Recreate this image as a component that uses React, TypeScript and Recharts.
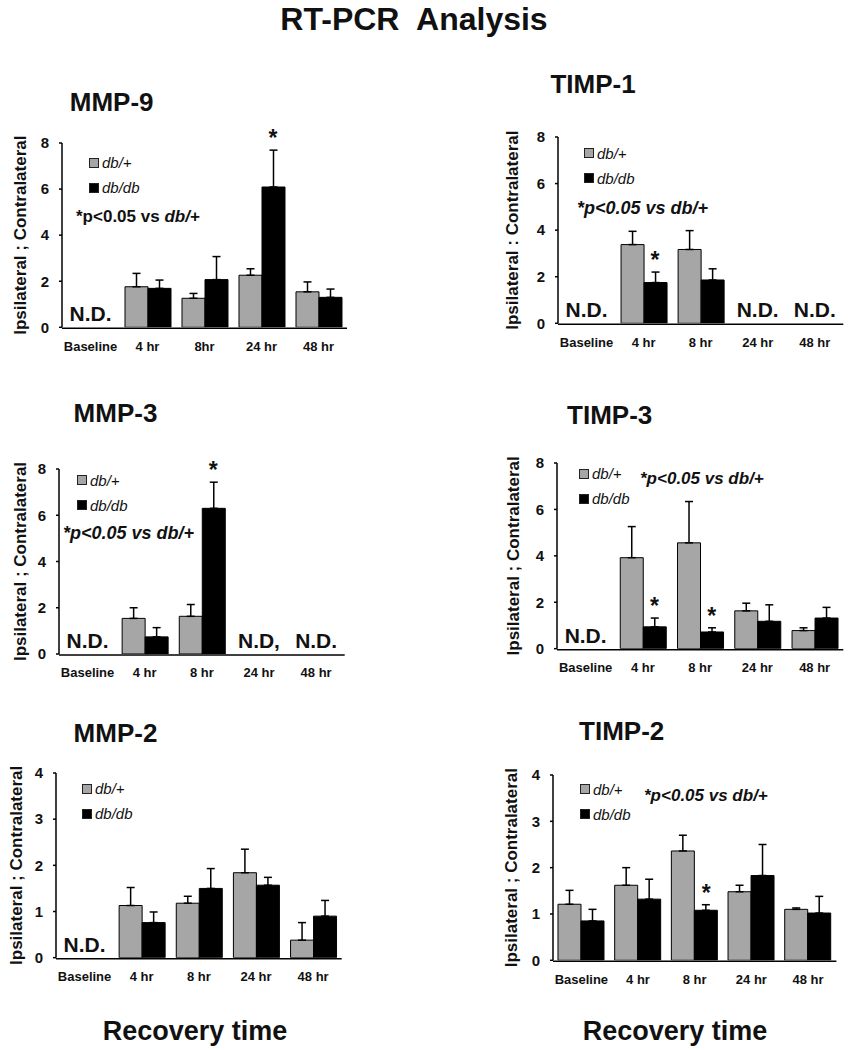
import React from 'react';
import { BarChart, Bar, XAxis, YAxis, ErrorBar, Legend, ReferenceDot } from 'recharts';

const FONT = "Arial, 'Liberation Sans', Helvetica, sans-serif";
const GREY = '#a6a6a6';
const BLACK = '#000000';
const INK = '#111111';

// ---------- MMP-9 ----------
const mmp9Categories = ['Baseline', '4 hr', '8hr', '24 hr', '48 hr'];
const mmp9DbPlus = [null, 1.76, 1.26, 2.26, 1.54];
const mmp9DbPlusErr = [null, 0.58, 0.21, 0.28, 0.43];
const mmp9DbDb = [null, 1.69, 2.07, 6.09, 1.3];
const mmp9DbDbErr = [null, 0.36, 1.0, 1.6, 0.36];
const mmp9Significant = [false, false, false, true, false];
const mmp9NotDetected = ['N.D.', null, null, null, null];

// ---------- TIMP-1 ----------
const timp1Categories = ['Baseline', '4 hr', '8 hr', '24 hr', '48 hr'];
const timp1DbPlus = [null, 3.38, 3.17, null, null];
const timp1DbPlusErr = [null, 0.57, 0.81, null, null];
const timp1DbDb = [null, 1.75, 1.86, null, null];
const timp1DbDbErr = [null, 0.45, 0.48, null, null];
const timp1Significant = [false, true, false, false, false];
const timp1NotDetected = ['N.D.', null, null, 'N.D.', 'N.D.'];

// ---------- MMP-3 ----------
const mmp3Categories = ['Baseline', '4 hr', '8 hr', '24 hr', '48 hr'];
const mmp3DbPlus = [null, 1.54, 1.63, null, null];
const mmp3DbPlusErr = [null, 0.46, 0.51, null, null];
const mmp3DbDb = [null, 0.74, 6.3, null, null];
const mmp3DbDbErr = [null, 0.4, 1.13, null, null];
const mmp3Significant = [false, false, true, false, false];
const mmp3NotDetected = ['N.D.', null, null, 'N.D,', 'N.D.'];

// ---------- TIMP-3 ----------
const timp3Categories = ['Baseline', '4 hr', '8 hr', '24 hr', '48 hr'];
const timp3DbPlus = [null, 3.92, 4.56, 1.63, 0.78];
const timp3DbPlusErr = [null, 1.34, 1.78, 0.33, 0.12];
const timp3DbDb = [null, 0.94, 0.72, 1.18, 1.32];
const timp3DbDbErr = [null, 0.38, 0.18, 0.71, 0.46];
const timp3Significant = [false, true, true, false, false];
const timp3NotDetected = ['N.D.', null, null, null, null];

// ---------- MMP-2 ----------
const mmp2Categories = ['Baseline', '4 hr', '8 hr', '24 hr', '48 hr'];
const mmp2DbPlus = [null, 1.13, 1.18, 1.84, 0.38];
const mmp2DbPlusErr = [null, 0.39, 0.15, 0.51, 0.38];
const mmp2DbDb = [null, 0.76, 1.5, 1.57, 0.9];
const mmp2DbDbErr = [null, 0.23, 0.43, 0.17, 0.34];
const mmp2Significant = [false, false, false, false, false];
const mmp2NotDetected = ['N.D.', null, null, null, null];

// ---------- TIMP-2 ----------
const timp2Categories = ['Baseline', '4 hr', '8 hr', '24 hr', '48 hr'];
const timp2DbPlus = [1.21, 1.62, 2.36, 1.48, 1.1];
const timp2DbPlusErr = [0.3, 0.38, 0.34, 0.14, 0.03];
const timp2DbDb = [0.85, 1.32, 1.08, 1.83, 1.02];
const timp2DbDbErr = [0.25, 0.43, 0.12, 0.67, 0.36];
const timp2Significant = [false, false, true, false, false];
const timp2NotDetected = [null, null, null, null, null];

const ticks8 = [0, 2, 4, 6, 8];
const ticks4 = [0, 1, 2, 3, 4];
const seriesNames = ['db/+', 'db/db'];
const seriesColors: Record<string, string> = { 'db/+': GREY, 'db/db': BLACK };

type Num = number | null;
type PanelCfg = {
  title: string;
  titleCx: number;
  titleCy: number;
  cats: string[];
  plus: Num[];
  plusErr: Num[];
  dbdb: Num[];
  dbdbErr: Num[];
  sig: boolean[];
  nd: (string | null)[];
  yMax: number;
  yTicks: number[];
  axisX: number;
  xEnd: number;
  yTop: number;
  yBot: number;
  labelGap: number;
  yLabel: string;
  legendX: number;
  legendCy: number;
};

const panels: PanelCfg[] = [
  {
    title: 'MMP-9', titleCx: 111.7, titleCy: 101.7,
    cats: mmp9Categories, plus: mmp9DbPlus, plusErr: mmp9DbPlusErr, dbdb: mmp9DbDb, dbdbErr: mmp9DbDbErr,
    sig: mmp9Significant, nd: mmp9NotDetected, yMax: 8, yTicks: ticks8,
    axisX: 62, xEnd: 347, yTop: 142.7, yBot: 329, labelGap: 42, yLabel: 'Ipsilateral ; Contralateral',
    legendX: 89, legendCy: 162.7,
  },
  {
    title: 'TIMP-1', titleCx: 593, titleCy: 84,
    cats: timp1Categories, plus: timp1DbPlus, plusErr: timp1DbPlusErr, dbdb: timp1DbDb, dbdbErr: timp1DbDbErr,
    sig: timp1Significant, nd: timp1NotDetected, yMax: 8, yTicks: ticks8,
    axisX: 557.7, xEnd: 843, yTop: 136.7, yBot: 325, labelGap: 46, yLabel: 'Ipsilateral : Contralateral',
    legendX: 584, legendCy: 153.3,
  },
  {
    title: 'MMP-3', titleCx: 115.5, titleCy: 413,
    cats: mmp3Categories, plus: mmp3DbPlus, plusErr: mmp3DbPlusErr, dbdb: mmp3DbDb, dbdbErr: mmp3DbDbErr,
    sig: mmp3Significant, nd: mmp3NotDetected, yMax: 8, yTicks: ticks8,
    axisX: 59.3, xEnd: 345, yTop: 469, yBot: 656, labelGap: 39, yLabel: 'Ipsilateral ; Contralateral',
    legendX: 77, legendCy: 480,
  },
  {
    title: 'TIMP-3', titleCx: 609.7, titleCy: 415,
    cats: timp3Categories, plus: timp3DbPlus, plusErr: timp3DbPlusErr, dbdb: timp3DbDb, dbdbErr: timp3DbDbErr,
    sig: timp3Significant, nd: timp3NotDetected, yMax: 8, yTicks: ticks8,
    axisX: 556.7, xEnd: 843, yTop: 463.3, yBot: 651, labelGap: 44, yLabel: 'Ipsilateral ; Contralateral',
    legendX: 579, legendCy: 474,
  },
  {
    title: 'MMP-2', titleCx: 115.5, titleCy: 732.5,
    cats: mmp2Categories, plus: mmp2DbPlus, plusErr: mmp2DbPlusErr, dbdb: mmp2DbDb, dbdbErr: mmp2DbDbErr,
    sig: mmp2Significant, nd: mmp2NotDetected, yMax: 4, yTicks: ticks4,
    axisX: 56, xEnd: 341.7, yTop: 773.3, yBot: 960, labelGap: 40, yLabel: 'Ipsilateral ; Contralateral',
    legendX: 82, legendCy: 789,
  },
  {
    title: 'TIMP-2', titleCx: 621.7, titleCy: 731,
    cats: timp2Categories, plus: timp2DbPlus, plusErr: timp2DbPlusErr, dbdb: timp2DbDb, dbdbErr: timp2DbDbErr,
    sig: timp2Significant, nd: timp2NotDetected, yMax: 4, yTicks: ticks4,
    axisX: 553.3, xEnd: 836.7, yTop: 775, yBot: 962.3, labelGap: 42, yLabel: 'Ipsilateral ; Contralateral',
    legendX: 580, legendCy: 789,
  },
];

const BAR_SIZE = 23;
const Y_AXIS_W = 56;
const MT = 34;
const MB = 44;
const MR = 3;
const LEGEND_ROW = 25;

function TextAt(props: {
  x: number; cy: number; fs: number; anchor?: 'middle' | 'start'; italic?: boolean; children: React.ReactNode;
}) {
  const { x, cy, fs, anchor = 'middle', italic = false, children } = props;
  const style: React.CSSProperties = {
    position: 'absolute',
    top: cy - 0.49 * fs,
    left: x,
    fontSize: fs,
    lineHeight: `${fs}px`,
    fontWeight: 700,
    fontFamily: FONT,
    fontStyle: italic ? 'italic' : 'normal',
    whiteSpace: 'pre',
    color: INK,
    transform: anchor === 'middle' ? 'translateX(-50%)' : undefined,
  };
  return <div style={style}>{children}</div>;
}

const renderLegend = () => (
  <div style={{ fontFamily: FONT }}>
    {seriesNames.map((name) => (
      <div key={name} style={{ display: 'flex', alignItems: 'center', height: LEGEND_ROW }}>
        <span
          style={{
            display: 'inline-block',
            width: 8,
            height: 8,
            background: seriesColors[name],
            border: '1px solid #222',
            marginRight: 3,
          }}
        />
        <span style={{ fontStyle: 'italic', fontSize: 15, color: INK, lineHeight: '15px' }}>{name}</span>
      </div>
    ))}
  </div>
);

const ndLabel = (text: string) => (props: any) => {
  const vb = props.viewBox || {};
  return (
    <text x={vb.x} y={vb.y - 6} textAnchor="middle" fontSize={21} fontWeight={700} fontFamily={FONT} fill={INK}>
      {text}
    </text>
  );
};

const starLabel = (props: any) => {
  const vb = props.viewBox || {};
  return (
    <text x={vb.x + BAR_SIZE / 2} y={vb.y - 4} textAnchor="middle" fontSize={23} fontWeight={700} fontFamily={FONT} fill={INK}>
      *
    </text>
  );
};

function Panel({ cfg }: { cfg: PanelCfg }) {
  const left = cfg.axisX - Y_AXIS_W;
  const top = cfg.yTop - MT;
  const width = cfg.xEnd - left + MR;
  const height = cfg.yBot - top + MB;
  const n = cfg.cats.length;
  const data = cfg.cats.map((c, i) => ({
    cat: c,
    plus: cfg.plus[i],
    plusErr: cfg.plusErr[i] == null ? null : [0, cfg.plusErr[i]],
    dbdb: cfg.dbdb[i],
    dbdbErr: cfg.dbdbErr[i] == null ? null : [0, cfg.dbdbErr[i]],
  }));
  const edgeTicks = Array.from({ length: n + 1 }, (_, i) => i);
  const axisStroke = { stroke: '#000', strokeWidth: 1.5 };

  return (
    <div style={{ position: 'absolute', left, top, width, height }}>
      <BarChart
        width={width}
        height={height}
        data={data}
        margin={{ top: MT, right: MR, bottom: MB, left: 0 }}
        barSize={BAR_SIZE}
        barGap={0}
      >
        <XAxis
          xAxisId="edges"
          type="number"
          domain={[0, n]}
          ticks={edgeTicks}
          allowDataOverflow
          height={1}
          tickSize={4}
          tick={false}
          axisLine={axisStroke}
          tickLine={axisStroke}
        />
        <XAxis
          dataKey="cat"
          height={1}
          interval={0}
          axisLine={false}
          tickLine={false}
          tickSize={0}
          tickMargin={14}
          fontSize={13}
          fontWeight={700}
          tick={{ fill: INK, fontSize: 13, fontWeight: 700, fontFamily: FONT }}
        />
        <YAxis
          width={Y_AXIS_W}
          domain={[0, cfg.yMax]}
          ticks={cfg.yTicks}
          allowDataOverflow
          tickSize={3}
          tickMargin={10}
          axisLine={axisStroke}
          tickLine={axisStroke}
          fontSize={15}
          fontWeight={700}
          tick={{ fill: INK, fontSize: 15, fontWeight: 700, fontFamily: FONT }}
          label={{
            value: cfg.yLabel,
            angle: -90,
            position: 'insideLeft',
            offset: Y_AXIS_W - cfg.labelGap,
            style: { textAnchor: 'middle', fontSize: 17, fontWeight: 700, fill: INK, fontFamily: FONT },
          }}
        />
        <Legend
          layout="vertical"
          align="center"
          verticalAlign="middle"
          content={renderLegend}
          wrapperStyle={{
            left: cfg.legendX - left,
            top: cfg.legendCy - LEGEND_ROW / 2 - top,
            width: 'auto',
          }}
        />
        <Bar dataKey="plus" name="db/+" fill={GREY} stroke="#000" strokeWidth={1} isAnimationActive={false}>
          <ErrorBar dataKey="plusErr" width={4} stroke="#000" strokeWidth={1.5} direction="y" />
        </Bar>
        <Bar dataKey="dbdb" name="db/db" fill={BLACK} stroke="#000" strokeWidth={1} isAnimationActive={false}>
          <ErrorBar dataKey="dbdbErr" width={4} stroke="#000" strokeWidth={1.5} direction="y" />
        </Bar>
        {cfg.nd.map((t, i) =>
          t ? (
            <ReferenceDot key={`nd-${i}`} x={cfg.cats[i]} y={0} r={0} ifOverflow="visible" label={ndLabel(t)} />
          ) : null,
        )}
        {cfg.sig.map((s, i) =>
          s && cfg.dbdb[i] != null ? (
            <ReferenceDot
              key={`sig-${i}`}
              x={cfg.cats[i]}
              y={(cfg.dbdb[i] as number) + ((cfg.dbdbErr[i] as number) || 0)}
              r={0}
              ifOverflow="visible"
              label={starLabel}
            />
          ) : null,
        )}
      </BarChart>
    </div>
  );
}

export default function App() {
  return (
    <div
      style={{
        position: 'absolute',
        left: 0,
        top: 0,
        width: 848,
        height: 1050,
        overflow: 'hidden',
        background: '#fff',
        fontFamily: FONT,
      }}
    >
      <TextAt x={414} cy={19} fs={32}>{'RT-PCR  Analysis'}</TextAt>
      {panels.map((p) => (
        <React.Fragment key={p.title}>
          <TextAt x={p.titleCx} cy={p.titleCy} fs={26}>{p.title}</TextAt>
          <Panel cfg={p} />
        </React.Fragment>
      ))}
      <TextAt x={76} cy={216.7} fs={17} anchor="start">
        {'*p<0.05 vs '}
        <span style={{ fontStyle: 'italic' }}>db/+</span>
      </TextAt>
      <TextAt x={577} cy={208.3} fs={18} anchor="start" italic>{'*p<0.05 vs db/+'}</TextAt>
      <TextAt x={63} cy={533.3} fs={18} anchor="start" italic>{'*p<0.05 vs db/+'}</TextAt>
      <TextAt x={640} cy={478.3} fs={17} anchor="start" italic>{'*p<0.05 vs db/+'}</TextAt>
      <TextAt x={644} cy={795} fs={17} anchor="start" italic>{'*p<0.05 vs db/+'}</TextAt>
      <TextAt x={195} cy={1031} fs={27}>Recovery time</TextAt>
      <TextAt x={675} cy={1031} fs={27}>Recovery time</TextAt>
    </div>
  );
}
